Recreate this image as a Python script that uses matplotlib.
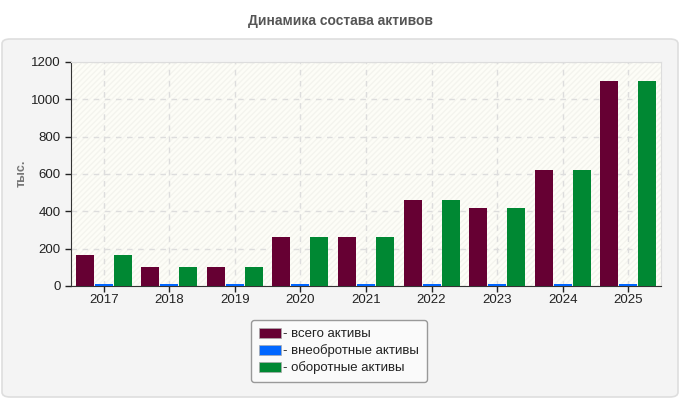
import numpy as np
import matplotlib.pyplot as plt
from matplotlib.patches import FancyBboxPatch, Patch, Rectangle

years = ["2017", "2018", "2019", "2020", "2021", "2022", "2023", "2024", "2025"]
total_assets = [166, 102, 102, 262, 262, 462, 419, 623, 1100]
noncurrent_assets = [12, 12, 12, 12, 12, 12, 12, 12, 12]
current_assets = [166, 102, 102, 262, 262, 462, 419, 623, 1100]

labels = ["- всего активы", "- внеобротные активы", "- оборотные активы"]
colors = ["#660033", "#0066ff", "#008833"]

plt.rcParams["font.family"] = ["Liberation Sans", "DejaVu Sans"]

fig = plt.figure(figsize=(6.8, 4.0), dpi=100)
fig.patch.set_facecolor("white")

# outer rounded panel
panel = FancyBboxPatch((2 / 680, 3 / 400), 676 / 680, 358 / 400,
                       boxstyle="round,pad=0,rounding_size=0.012",
                       transform=fig.transFigure, facecolor="#f4f4f4",
                       edgecolor="#dedede", linewidth=1.2, zorder=-5)
fig.patches.append(panel)

fig.text(0.5, 0.948, "Динамика состава активов", ha="center", va="center",
         fontsize=10, fontweight="bold", color="#555555")

ax = fig.add_axes([71 / 680, 114 / 400, 590 / 680, 224 / 400])
ax.set_facecolor("#fdfdf7")
ax.add_patch(Rectangle((0, 0), 1, 1, transform=ax.transAxes, facecolor="none",
                       edgecolor="#f4f4ee", hatch="//////", linewidth=0, zorder=0))

x = np.arange(len(years))
w = 0.275
off = 0.29
ax.bar(x - off, total_assets, w, color=colors[0], zorder=3)
ax.bar(x, noncurrent_assets, w, color=colors[1], zorder=3)
ax.bar(x + off, current_assets, w, color=colors[2], zorder=3)

ax.set_xlim(-0.5, len(years) - 0.5)
ax.set_ylim(0, 1200)
ax.set_yticks(range(0, 1201, 200))
ax.set_xticks(x)
ax.set_xticklabels(years)
ax.tick_params(axis="both", labelsize=9.5, colors="#222222", length=4, width=1)
ax.tick_params(axis="x", pad=2)

ax.grid(True, color="#dddddd", linestyle=(0, (4, 4)), linewidth=1, zorder=1)
for s in ["left", "bottom"]:
    ax.spines[s].set_color("#333333")
for s in ["top", "right"]:
    ax.spines[s].set_color("#dddddd")

fig.text(22 / 680, 1 - 173 / 400, "тыс.", rotation=90, ha="center", va="center",
         fontsize=9, fontweight="bold", color="#777777")

handles = [Patch(facecolor=c, edgecolor="#aaaaaa", linewidth=0.5) for c in colors]
leg = fig.legend(handles, labels, loc="center", bbox_to_anchor=(339 / 680, 1 - 351 / 400),
                 fontsize=9.5, frameon=True, fancybox=True, handlelength=1.7,
                 handleheight=0.8, handletextpad=0.15, labelspacing=0.3,
                 borderpad=0.6, labelcolor="#222222")
leg.get_frame().set_facecolor("#fafafa")
leg.get_frame().set_edgecolor("#999999")
leg.get_frame().set_alpha(1)

plt.savefig("out.png", dpi=100)
